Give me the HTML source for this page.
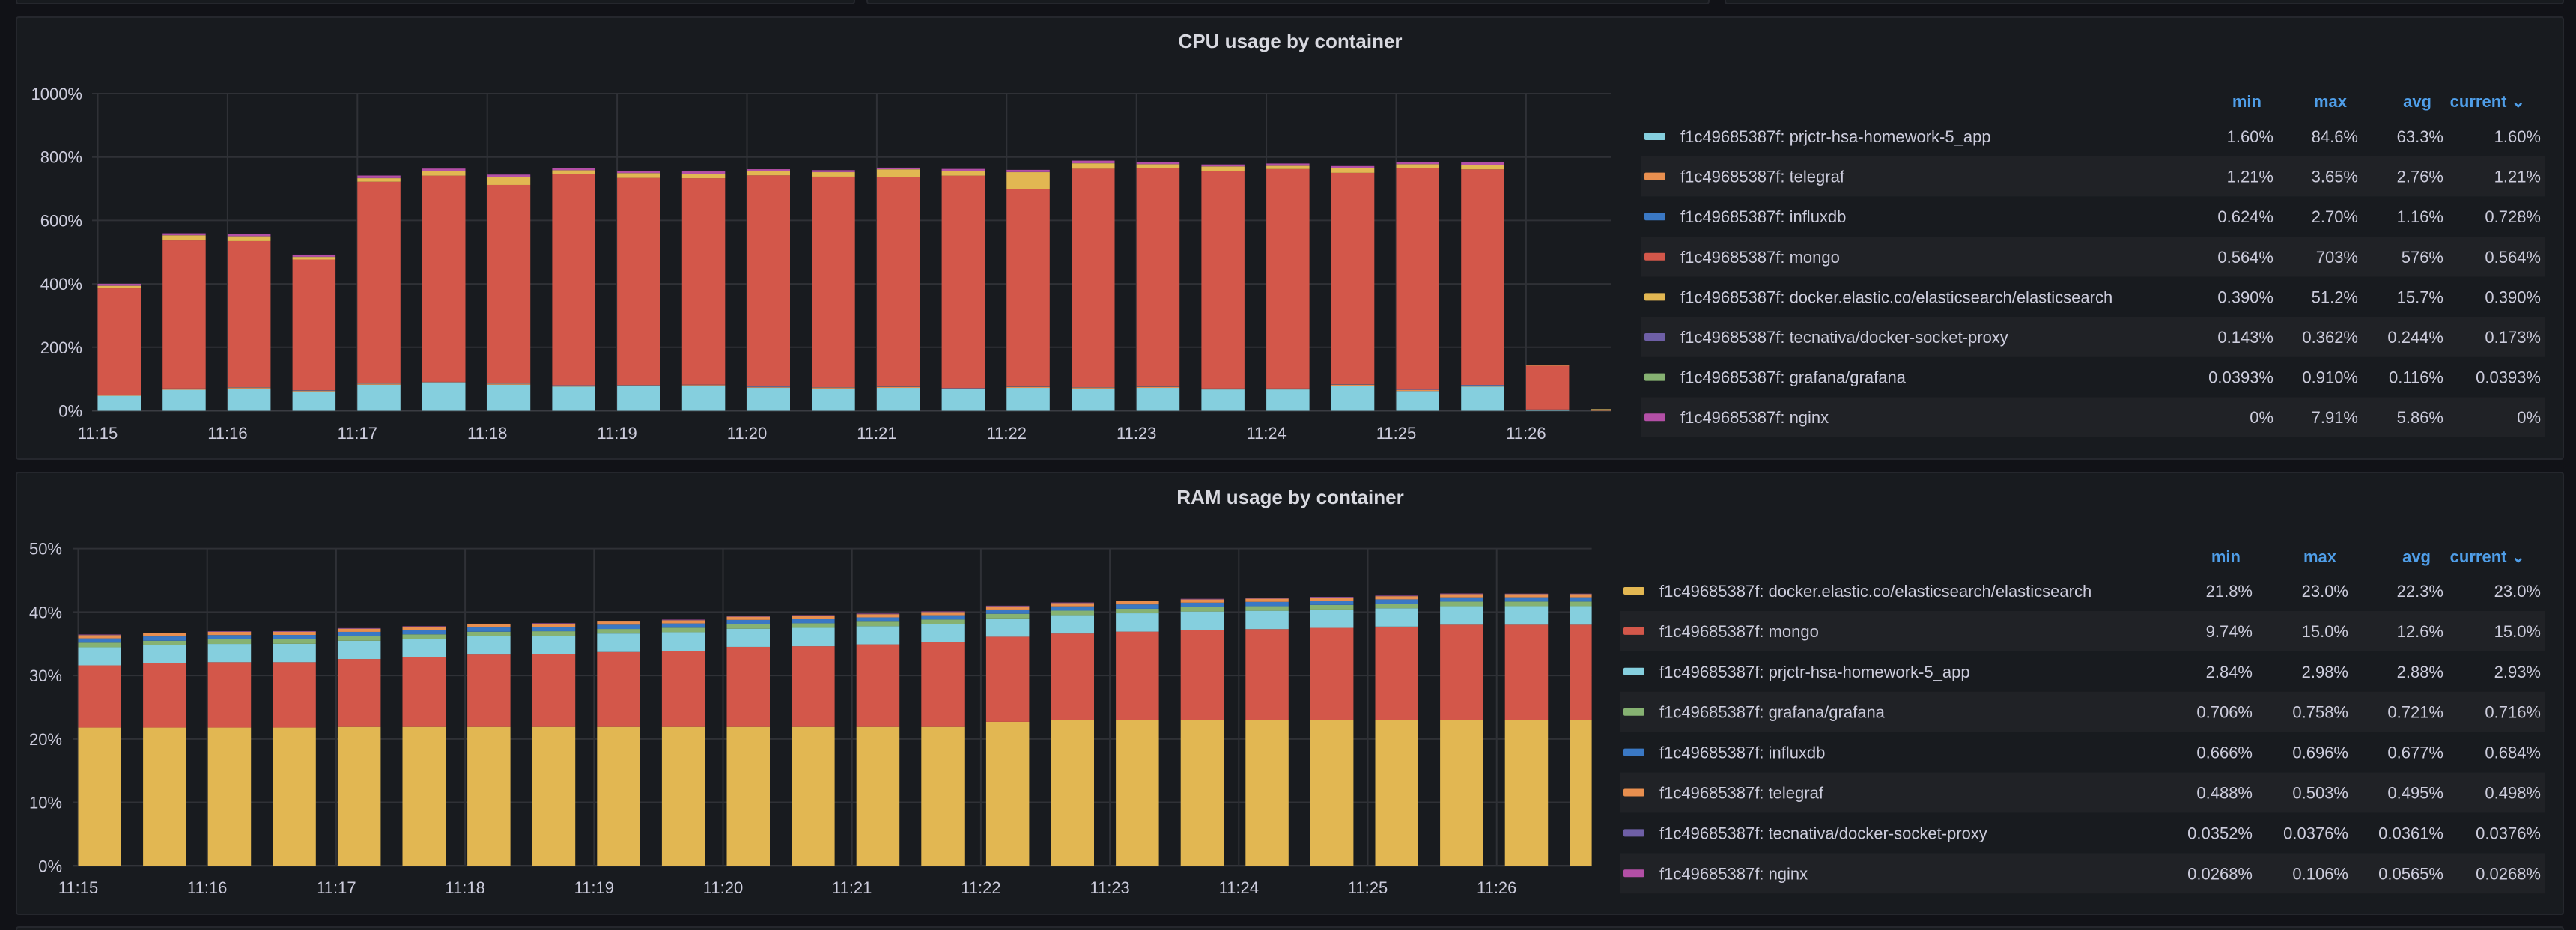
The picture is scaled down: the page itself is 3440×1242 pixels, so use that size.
<!DOCTYPE html>
<html><head><meta charset="utf-8">
<style>
html,body{margin:0;padding:0;background:#111217;}
svg{display:block;font-family:"Liberation Sans",sans-serif;}
</style></head>
<body>
<svg id="root" width="3440" height="1242" viewBox="0 0 3440 1242" xmlns="http://www.w3.org/2000/svg">
<rect x="0" y="0" width="3440" height="1242" fill="#111217"/>
<rect x="22" y="-20" width="1119" height="25" rx="3" fill="#181b1f" stroke="#25272d" stroke-width="2"/>
<rect x="1158" y="-20" width="1124" height="25" rx="3" fill="#181b1f" stroke="#25272d" stroke-width="2"/>
<rect x="2304" y="-20" width="1119" height="25" rx="3" fill="#181b1f" stroke="#25272d" stroke-width="2"/>
<rect x="22" y="23" width="3401" height="590" rx="3" fill="#181b1f" stroke="#25272d" stroke-width="2"/>
<rect x="22" y="631" width="3401" height="590" rx="3" fill="#181b1f" stroke="#25272d" stroke-width="2"/>
<rect x="22" y="1238" width="3401" height="20" rx="3" fill="#181b1f" stroke="#25272d" stroke-width="2"/>
<text x="1723" y="64" fill="#d8d9e0" font-size="26" font-weight="bold" text-anchor="middle">CPU usage by container</text>
<text x="1723" y="673" fill="#d8d9e0" font-size="26" font-weight="bold" text-anchor="middle">RAM usage by container</text>
<g id="cpu"></g>
<g id="ram"></g>
<g id="cpuLegend"></g>
<g id="ramLegend"></g>
</svg>
<script>
// ---------- CPU data (stack order bottom->top) ----------
const cpuCats = ["11:15:00","11:15:30","11:16:00","11:16:30","11:17:00","11:17:30","11:18:00","11:18:30","11:19:00","11:19:30","11:20:00","11:20:30","11:21:00","11:21:30","11:22:00","11:22:30","11:23:00","11:23:30","11:24:00","11:24:30","11:25:00","11:25:30","11:26:00","11:26:30"];
const cpuApp      = [47,66,70,61,82,87,82,76,77,78,72,70,72,68,72,70,72,67,67,79,62,76,2,0];
const cpuTelegraf = [2,3,3,2,3,3,3,2,3,3,2,3,3,2,3,3,3,2,2,3,3,3,1,2];
const cpuInflux   = [1,1,1,1,1,1,1,2,1,1,2,1,1,1,1,1,1,1,1,1,1,2,1,1];
const cpuMongo    = [336,467,461,413,636,650,626,665,653,651,666,664,660,670,624,689,688,686,692,667,699,680,138,0];
const cpuElastic  = [8,16,15,8,11,14,25,13,15,13,13,14,25,14,52,17,13,14,10,14,12,14,1,2];
const cpuProxy    = [0.3,0.3,0.3,0.3,0.3,0.3,0.3,0.3,0.3,0.3,0.3,0.3,0.3,0.3,0.3,0.3,0.3,0.3,0.3,0.3,0.3,0.3,0.2,0.2];
const cpuGrafana  = [0.1,0.1,0.1,0.1,0.1,0.1,0.1,0.1,0.1,0.1,0.1,0.1,0.1,0.1,0.1,0.1,0.1,0.1,0.1,0.1,0.1,0.1,0.1,0.1];
const cpuNginx    = [6,6,7,7,8,8,7,7,7,8,6,6,5,7,7,8,6,6,7,7,6,8,1,0];
const cpuYTicks = [0,200,400,600,800,1000];
const xTickLabels = ["11:15","11:16","11:17","11:18","11:19","11:20","11:21","11:22","11:23","11:24","11:25","11:26"];

// ---------- RAM data ----------
const ramCats = cpuCats;
const ramElastic  = [21.8,21.8,21.8,21.8,21.9,21.9,21.9,21.9,21.9,21.9,21.9,21.9,21.9,21.9,22.7,23.0,23.0,23.0,23.0,23.0,23.0,23.0,23.0,23.0];
const ramMongo    = [9.8,10.1,10.3,10.3,10.7,11.0,11.4,11.5,11.8,12.0,12.6,12.7,13.0,13.3,13.4,13.6,13.9,14.2,14.3,14.5,14.7,15.0,15.0,15.0];
const ramApp      = [2.84,2.84,2.86,2.88,2.86,2.85,2.86,2.84,2.9,2.9,2.86,2.9,2.86,2.9,2.9,2.9,2.9,2.88,2.9,2.9,2.9,2.92,2.93,2.93];
const ramGrafana  = [0.72,0.72,0.72,0.72,0.72,0.72,0.72,0.72,0.72,0.72,0.72,0.72,0.72,0.72,0.72,0.72,0.72,0.72,0.72,0.72,0.72,0.72,0.716,0.716];
const ramInflux   = [0.68,0.68,0.68,0.68,0.68,0.68,0.68,0.68,0.68,0.68,0.68,0.68,0.68,0.68,0.68,0.68,0.68,0.68,0.68,0.68,0.68,0.68,0.684,0.684];
const ramTelegraf = [0.5,0.5,0.5,0.5,0.5,0.5,0.5,0.5,0.5,0.5,0.5,0.5,0.5,0.5,0.5,0.5,0.5,0.5,0.5,0.5,0.5,0.5,0.498,0.498];
const ramProxy    = [0.036,0.036,0.036,0.036,0.036,0.036,0.036,0.036,0.036,0.036,0.036,0.036,0.036,0.036,0.036,0.036,0.036,0.036,0.036,0.036,0.036,0.036,0.0376,0.0376];
const ramNginx    = [0.06,0.06,0.06,0.06,0.06,0.06,0.06,0.06,0.06,0.06,0.06,0.06,0.06,0.06,0.06,0.06,0.06,0.06,0.06,0.06,0.06,0.06,0.03,0.03];
const ramYTicks = [0,10,20,30,40,50];

// ---------- Legend data ----------
const cpuLegNames = ["prjctr-hsa-homework-5_app","telegraf","influxdb","mongo","docker.elastic.co/elasticsearch/elasticsearch","tecnativa/docker-socket-proxy","grafana/grafana","nginx"];
const cpuLegMin = ["1.60%","1.21%","0.624%","0.564%","0.390%","0.143%","0.0393%","0%"];
const cpuLegMax = ["84.6%","3.65%","2.70%","703%","51.2%","0.362%","0.910%","7.91%"];
const cpuLegAvg = ["63.3%","2.76%","1.16%","576%","15.7%","0.244%","0.116%","5.86%"];
const cpuLegCur = ["1.60%","1.21%","0.728%","0.564%","0.390%","0.173%","0.0393%","0%"];
const ramLegNames = ["docker.elastic.co/elasticsearch/elasticsearch","mongo","prjctr-hsa-homework-5_app","grafana/grafana","influxdb","telegraf","tecnativa/docker-socket-proxy","nginx"];
const ramLegMin = ["21.8%","9.74%","2.84%","0.706%","0.666%","0.488%","0.0352%","0.0268%"];
const ramLegMax = ["23.0%","15.0%","2.98%","0.758%","0.696%","0.503%","0.0376%","0.106%"];
const ramLegAvg = ["22.3%","12.6%","2.88%","0.721%","0.677%","0.495%","0.0361%","0.0565%"];
const ramLegCur = ["23.0%","15.0%","2.93%","0.716%","0.684%","0.498%","0.0376%","0.0268%"];

const C = {app:"#85cfde",telegraf:"#e88f4f",influx:"#3a78c4",mongo:"#d3574a",elastic:"#e2b752",proxy:"#6e5fa6",grafana:"#86b272",nginx:"#b34fa6"};
const NS = "http://www.w3.org/2000/svg";
function mk(tag, attrs, parent){const e=document.createElementNS(NS,tag);for(const k in attrs)e.setAttribute(k,attrs[k]);parent.appendChild(e);return e;}

function drawChart(g, cfg){
  const y = v => cfg.y0 - (v - 0) / cfg.yMax * (cfg.y0 - cfg.y1);
  const x = i => cfg.xStart + i * cfg.step;
  const xMin = m => cfg.xStart + m * cfg.minute;
  const clipId = cfg.id + "-clip";
  const defs = mk("defs",{},g);
  const cp = mk("clipPath",{id:clipId},defs);
  mk("rect",{x:cfg.left,y:cfg.y1-5,width:cfg.right-cfg.left,height:cfg.y0-cfg.y1+5},cp);
  cfg.yTicks.forEach(t=>{
    const l = mk("line",{x1:cfg.left,x2:cfg.right,y1:y(t),y2:y(t),stroke:t===0?"#3a3c42":"#2f3136","stroke-width":2},g);
    
    
    const tx = mk("text",{x:cfg.labelX,y:y(t)+8,fill:"#ccccdc","font-size":22,"text-anchor":"end"},g);
    tx.textContent = t + "%";
    
    
  });
  xTickLabels.forEach((lab,m)=>{
    const l = mk("line",{x1:xMin(m),x2:xMin(m),y1:cfg.y1,y2:cfg.y0,stroke:"#2f3136","stroke-width":2},g);
    
    
    const tx = mk("text",{x:xMin(m),y:cfg.xLabelY,fill:"#ccccdc","font-size":22,"text-anchor":"middle"},g);
    tx.textContent = lab;
    
    
  });
  const bars = mk("g",{"clip-path":"url(#"+clipId+")"},g);
  cfg.cats.forEach((c,i)=>{
    let acc = 0;
    cfg.series.forEach(s=>{
      const v = s.data[i];
      const top = y(acc+v), bot = y(acc);
      acc += v;
      if (bot-top <= 0) return;
      const r = mk("rect",{x:x(i),y:top,width:cfg.barW,height:bot-top,fill:s.color},bars);
      
      
    });
  });
}

drawChart(document.getElementById("cpu"),{
  id:"cpu", cats:cpuCats, yMax:1000, y0:548.5, y1:125, left:123, right:2152, labelX:110,
  xStart:130.5, step:86.7, minute:173.4, barW:57.5, xLabelY:586, yTicks:cpuYTicks,
  series:[
    {key:"app",data:cpuApp,color:C.app},{key:"telegraf",data:cpuTelegraf,color:C.telegraf},
    {key:"influxdb",data:cpuInflux,color:C.influx},{key:"mongo",data:cpuMongo,color:C.mongo},
    {key:"elasticsearch",data:cpuElastic,color:C.elastic},{key:"proxy",data:cpuProxy,color:C.proxy},
    {key:"grafana",data:cpuGrafana,color:C.grafana},{key:"nginx",data:cpuNginx,color:C.nginx}]
});
drawChart(document.getElementById("ram"),{
  id:"ram", cats:ramCats, yMax:50, y0:1156.3, y1:732.6, left:97, right:2125.6, labelX:83,
  xStart:104.5, step:86.6, minute:172.2, barW:57.5, xLabelY:1193, yTicks:ramYTicks,
  series:[
    {key:"elasticsearch",data:ramElastic,color:C.elastic},{key:"mongo",data:ramMongo,color:C.mongo},
    {key:"app",data:ramApp,color:C.app},{key:"grafana",data:ramGrafana,color:C.grafana},
    {key:"influxdb",data:ramInflux,color:C.influx},{key:"telegraf",data:ramTelegraf,color:C.telegraf},
    {key:"proxy",data:ramProxy,color:C.proxy},{key:"nginx",data:ramNginx,color:C.nginx}]
});

function drawLegend(g, cfg){
  const heads = [["min",cfg.hx[0]],["max",cfg.hx[1]],["avg",cfg.hx[2]],["current \u2304",cfg.hx[3]]];
  heads.forEach(h=>{
    const t = mk("text",{x:h[1],y:cfg.headY+8,fill:"#4f9ee8","font-size":22,"font-weight":"bold","text-anchor":"end"},g);
    t.textContent = h[0];
    
    
  });
  cfg.names.forEach((n,i)=>{
    const cy = cfg.row0 + i*cfg.rowH;
    if (i%2===1){
      const bg = mk("rect",{x:cfg.boxL,y:cy-cfg.rowH/2,width:cfg.boxR-cfg.boxL,height:cfg.rowH,fill:"#202226"},g);
      
      
    }
    const sw = mk("rect",{x:cfg.swX,y:cy-5,width:28,height:10,rx:2,fill:cfg.colors[i]},g);
    
    
    const t = mk("text",{x:cfg.nameX,y:cy+8,fill:"#ccccdc","font-size":22},g);
    t.textContent = "f1c49685387f: " + n;
    
    
    [cfg.min,cfg.max,cfg.avg,cfg.cur].forEach((arr,k)=>{
      const v = mk("text",{x:cfg.vx[k],y:cy+8,fill:"#ccccdc","font-size":22,"text-anchor":"end"},g);
      v.textContent = arr[i];
      
      
    });
  });
}
drawLegend(document.getElementById("cpuLegend"),{
  headY:135, row0:182, rowH:53.6, boxL:2192, boxR:3398, swX:2196, nameX:2244,
  hx:[3020,3134,3247,3372], vx:[3036,3149,3263,3393],
  names:cpuLegNames, min:cpuLegMin, max:cpuLegMax, avg:cpuLegAvg, cur:cpuLegCur,
  colors:[C.app,C.telegraf,C.influx,C.mongo,C.elastic,C.proxy,C.grafana,C.nginx]
});
drawLegend(document.getElementById("ramLegend"),{
  headY:743, row0:789, rowH:53.9, boxL:2164, boxR:3398, swX:2168, nameX:2216,
  hx:[2992,3120,3246,3372], vx:[3008,3136,3263,3393],
  names:ramLegNames, min:ramLegMin, max:ramLegMax, avg:ramLegAvg, cur:ramLegCur,
  colors:[C.elastic,C.mongo,C.app,C.grafana,C.influx,C.telegraf,C.proxy,C.nginx]
});
</script>
</body></html>
